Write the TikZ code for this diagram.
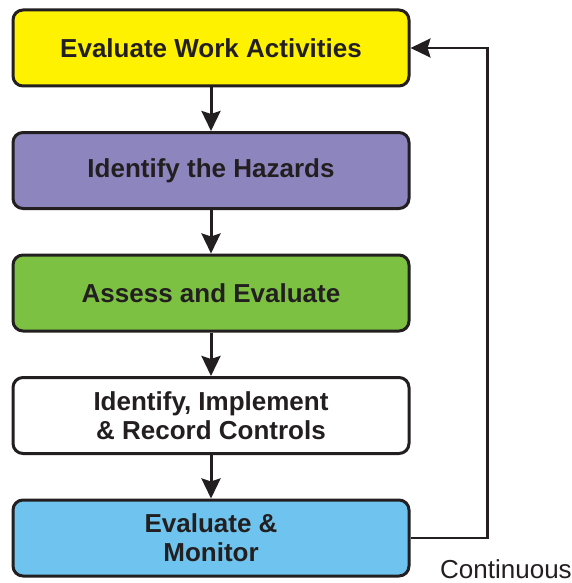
\documentclass[tikz,border=0pt]{standalone}
\usepackage{fontspec}
\setmainfont{Liberation Sans}
\usetikzlibrary{positioning}
\usetikzlibrary{arrows.meta}
\definecolor{stepyellow}{HTML}{FFF200}
\definecolor{steppurple}{HTML}{8D86BE}
\definecolor{stepgreen}{HTML}{7DC142}
\definecolor{stepblue}{HTML}{6EC4EE}
\definecolor{stepline}{HTML}{231F20}
\tikzstyle{stepbox} = [rectangle, rounded corners=10pt, draw=stepline, line width=3pt,
minimum width=396pt, minimum height=76pt, align=center, inner sep=0pt,
font=\fontsize{26}{29}\selectfont\bfseries, text=stepline, node distance=43.5pt]
\tikzstyle{flow} = [->, draw=stepline, line width=3pt]
\tikzstyle{loop} = [->, draw=stepline, line width=2.6pt]
\tikzstyle{caption} = [font=\fontsize{26}{29}\selectfont, text=stepline, inner sep=0pt]
\tikzset{>={Stealth[length=20pt, width=19pt, inset=3pt]}}

\begin{document}
\begin{tikzpicture}
  \useasboundingbox[fill=white] (0,0) rectangle (571pt,-583pt);
  \node[stepbox, fill=stepyellow] (eval) at (211pt,-48pt) {Evaluate Work Activities};
  \node[stepbox, fill=steppurple, below=of eval] (hazard) {Identify the Hazards};
  \node[stepbox, fill=stepgreen, below=of hazard] (assess) {Assess and Evaluate};
  \node[stepbox, fill=white, below=of assess] (control) {Identify, Implement\\\& Record Controls};
  \node[stepbox, fill=stepblue, below=of control] (monitor) {Evaluate \&\\Monitor};

  \foreach \a/\b in {eval/hazard, hazard/assess, assess/control, control/monitor}
    \draw[flow] (\a) -- (\b);

  \draw[loop] (monitor.east) -- ++(77pt,0) coordinate (turn) |- (eval.east);

  \node[caption, anchor=base west] (cont) at (440pt,-578pt) {Continuous};
\end{tikzpicture}
\end{document}
